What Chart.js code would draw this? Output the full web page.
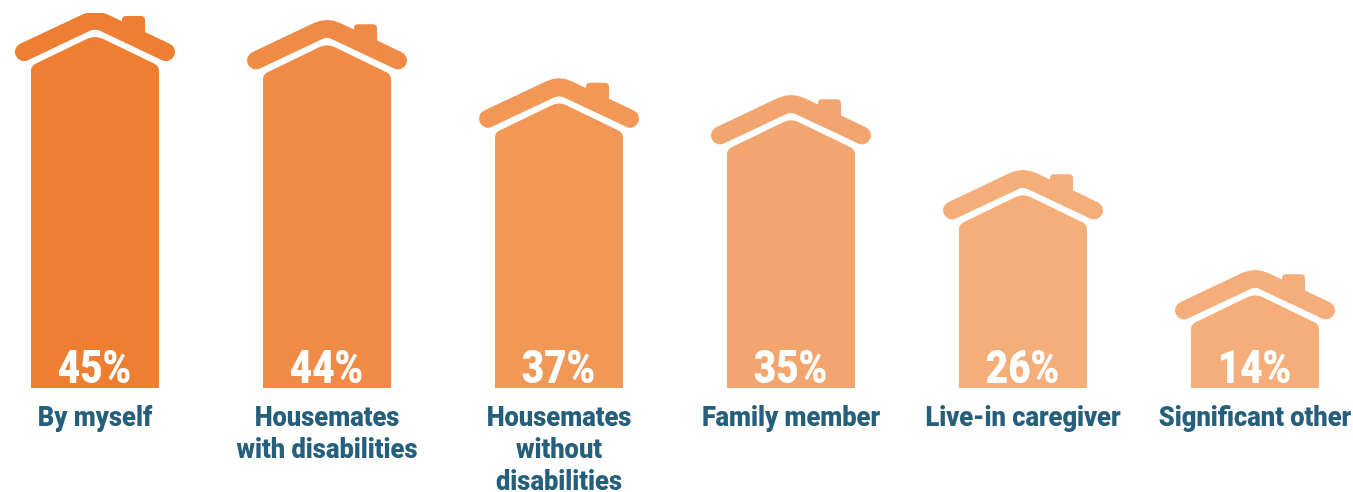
<!DOCTYPE html>
<html>
<head>
<meta charset="utf-8">
<title>Living situation</title>
<script src="https://cdn.jsdelivr.net/npm/chart.js@4/dist/chart.umd.js"></script>
<style>
    html, body { margin: 0; background: #fff; overflow: hidden; }
    #wrap { position: relative; width: 1353px; height: 492px; overflow: hidden; }
    #chart { position: absolute; left: -21px; top: 0; }
</style>
</head>
<body>
<div id="wrap"><canvas id="chart" width="1392" height="492"></canvas></div>
<script>
const categories = [
    ['By myself'],
    ['Housemates', 'with disabilities'],
    ['Housemates', 'without', 'disabilities'],
    ['Family member'],
    ['Live-in caregiver'],
    ['Significant other']
];
const percents = [45, 44, 37, 35, 26, 14];
const houseColors = ['#ed7e32', '#f08b47', '#f19857', '#f3a56f', '#f5ae7a', '#f5ae7a'];

const LABEL_COLOR = '#265f7c';

// bar drawn as a little house, roof apex sits on the value
class HouseElement extends Chart.BarElement {
    draw(ctx) {
        const { x, y, base, width } = this.getProps(['x', 'y', 'base', 'width']);
        const half = width / 2;
        ctx.save();
        ctx.fillStyle = this.options.backgroundColor;
        ctx.strokeStyle = this.options.backgroundColor;

        // chimney
        ctx.beginPath();
        ctx.roundRect(x + 27, y + 3, 23, 23, [4, 4, 0, 0]);
        ctx.fill();

        // roof
        ctx.lineWidth = 18;
        ctx.lineCap = 'round';
        ctx.beginPath();
        ctx.moveTo(x - 71, y + 39);
        ctx.arcTo(x, y + 5.5, x + 71, y + 39, 22);
        ctx.lineTo(x + 71, y + 39);
        ctx.stroke();

        // body
        ctx.beginPath();
        ctx.moveTo(x - half, base);
        ctx.arcTo(x - half, y + 53, x, y + 22, 8);
        ctx.arcTo(x, y + 22, x + half, y + 53, 18);
        ctx.arcTo(x + half, y + 53, x + half, base, 8);
        ctx.lineTo(x + half, base);
        ctx.closePath();
        ctx.fill();
        ctx.restore();
    }
}
HouseElement.id = 'house';

class HouseController extends Chart.BarController {}
HouseController.id = 'houseBar';
HouseController.defaults = Object.assign({}, Chart.BarController.defaults, { dataElementType: 'house' });
HouseController.overrides = Chart.BarController.overrides;

Chart.register(HouseElement, HouseController);

function narrowText(ctx, text, x, y, font, color, squeeze) {
    ctx.save();
    ctx.font = font;
    ctx.fillStyle = color;
    ctx.textAlign = 'center';
    ctx.textBaseline = 'alphabetic';
    ctx.translate(x, y);
    ctx.scale(squeeze, 1);
    ctx.fillText(text, 0, 0);
    ctx.restore();
}

const houseLabels = {
    id: 'houseLabels',
    afterDatasetsDraw(chart) {
        const ctx = chart.ctx;
        const xScale = chart.scales.x;
        chart.getDatasetMeta(0).data.forEach((bar, i) => {
            narrowText(ctx, percents[i] + '%', bar.x - 0.5, bar.base - 5, '900 46px Roboto', '#fff', 0.84);
            const cx = xScale.getPixelForTick(i);
            categories[i].forEach((line, n) => {
                narrowText(ctx, line, cx, 426 + n * 32, '900 28px Roboto', LABEL_COLOR, 0.91);
            });
        });
    }
};

new Chart(document.getElementById('chart'), {
    type: 'houseBar',
    data: {
        labels: categories,
        datasets: [{
            data: percents,
            backgroundColor: houseColors,
            barThickness: 128
        }]
    },
    options: {
        responsive: false,
        animation: false,
        layout: { padding: { top: 13, bottom: 104 } },
        plugins: { legend: { display: false }, tooltip: { enabled: false } },
        scales: {
            x: { display: false, type: 'category', offset: true },
            y: { display: false, min: 0, max: 45 }
        }
    },
    plugins: [houseLabels]
});
</script>
</body>
</html>
